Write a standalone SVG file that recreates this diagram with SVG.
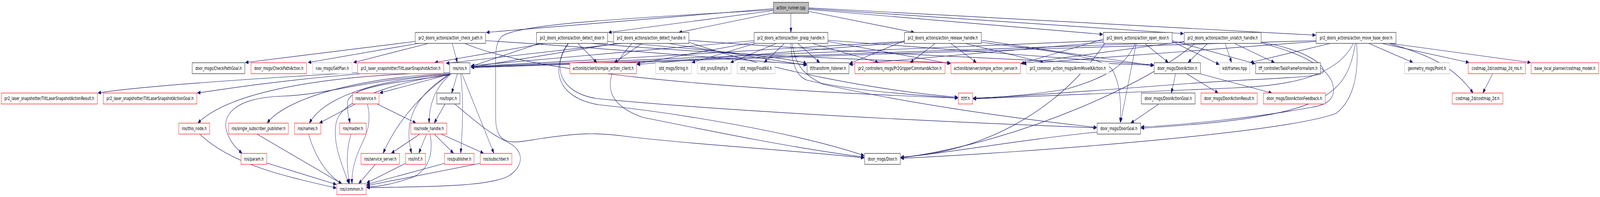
<svg xmlns="http://www.w3.org/2000/svg" width="6227" height="504" viewBox="0 0 6227 504" preserveAspectRatio="none">
<style>
svg{width:100vw;height:100vh}
rect{fill:#fff;stroke-width:1.4}
.k rect{stroke:#404040}
.r rect{stroke:#ff3030}
.g rect{stroke:#bfbfbf}
.root rect{fill:#bfbfbf;stroke:#404040}
text{font-family:"DejaVu Sans","Liberation Sans",sans-serif;font-size:12.7px;fill:#000;text-anchor:middle}
.edges path{fill:none;stroke:#191970;stroke-width:1.2;marker-end:url(#ah)}
</style>
<defs>
<marker id="ah" viewBox="0 0 12 9" refX="12" refY="4.5" markerWidth="12" markerHeight="9" markerUnits="userSpaceOnUse" orient="auto"><path d="M0,0 L12,4.5 L0,9 z" fill="#191970" stroke="#191970"/></marker>
</defs>
<rect x="0" y="0" width="6227" height="504" style="fill:#fff;stroke:none"/>
<g class="edges" id="edges">
<path d="M3010,22 L1893,83"/>
<path d="M3010,27 L2368,83"/>
<path d="M3012,33 L2642,83"/>
<path d="M3078,34 L3078,83"/>
<path d="M3147,29 L3558,83"/>
<path d="M3147,24 L4292,88"/>
<path d="M3147,22 L4606,86"/>
<path d="M3147,20 L5120,90"/>
<path d="M3010,25 C2500,45 2000,60 1950,95 C1925,115 1929,140 1929,200 L1929,300 C1929,380 2000,365 2100,355 C2250,340 2320,338 2450,350 C2700,370 3100,385 3363,404"/>
<path d="M1760,111 L1780,160"/>
<path d="M1616,106 L955,160"/>
<path d="M1628,111 L1199,160"/>
<path d="M1668,111 L1376,160"/>
<path d="M1809,111 C2050,180 2700,225 3728,251"/>
<path d="M1890,104 C2300,120 2800,150 3139,165"/>
<path d="M1392,186 C1000,200 520,222 381,238"/>
<path d="M1400,189 C1100,205 900,225 768,238"/>
<path d="M2249,111 L2323,160"/>
<path d="M2100,111 L1833,170"/>
<path d="M2120,111 L1692,160"/>
<path d="M2213,111 C2150,165 2170,235 2320,252 C2600,270 3200,300 4268,327"/>
<path d="M2210,111 C2140,180 2170,250 2330,268 C2650,290 3100,340 3363,398"/>
<path d="M2365,106 C2800,130 3100,150 3139,163"/>
<path d="M2300,111 C2800,140 3300,150 3699,161"/>
<path d="M2499,111 L2391,160"/>
<path d="M2400,111 L1834,172"/>
<path d="M2420,111 L1736,162"/>
<path d="M2600,111 L3139,167"/>
<path d="M2681,103 C3200,130 4000,155 4490,167"/>
<path d="M2460,111 C2350,190 2330,260 2500,300 C2800,340 3100,380 3363,402"/>
<path d="M2681,108 C3000,180 3400,230 3728,249"/>
<path d="M2940,111 L2693,160"/>
<path d="M3022,111 L2843,160"/>
<path d="M3053,111 L2974,160"/>
<path d="M3161,111 L3419,160"/>
<path d="M3105,111 L3190,160"/>
<path d="M2935,104 C2500,130 2100,150 1834,168"/>
<path d="M2935,108 L2479,163"/>
<path d="M3222,106 L3699,163"/>
<path d="M3222,103 L4490,166"/>
<path d="M3078,111 C3080,160 3100,195 3140,205 C3300,230 3500,240 3728,251"/>
<path d="M3083,111 C3095,170 3130,190 3200,215 C3500,260 3900,300 4268,326"/>
<path d="M3700,111 L3800,160"/>
<path d="M3756,111 L4062,160"/>
<path d="M3640,111 L3543,160"/>
<path d="M3520,104 L3306,163"/>
<path d="M3520,106 C3000,130 2400,150 1834,170"/>
<path d="M3520,108 L2479,165"/>
<path d="M3819,103 L4490,168"/>
<path d="M3819,108 C4000,125 4300,140 4330,180 C4365,220 4362,280 4360,313"/>
<path d="M4422,111 L4361,313"/>
<path d="M4455,111 L4547,160"/>
<path d="M4294,104 C3500,128 2500,150 1834,171"/>
<path d="M4418,111 C4380,170 4300,200 4150,228 C4000,245 3850,250 3787,251"/>
<path d="M4294,100 L3973,163"/>
<path d="M4562,104 L4885,163"/>
<path d="M4562,106 L4745,165"/>
<path d="M4300,111 C4100,300 3800,390 3506,402"/>
<path d="M4294,108 L3306,165"/>
<path d="M4768,111 L4793,160"/>
<path d="M4804,111 L4960,160"/>
<path d="M4700,111 L4624,160"/>
<path d="M4609,108 C3800,130 2600,150 1834,172"/>
<path d="M4609,106 L3980,162"/>
<path d="M4908,108 C5100,130 5160,170 5150,185 C5140,200 4900,200 4600,215 C4300,230 3900,250 3787,252"/>
<path d="M4908,110 C5150,150 5190,200 5190,230 C5190,260 5150,270 5100,275 C4900,300 4600,320 4441,325"/>
<path d="M4650,111 C4500,200 4000,360 3506,404"/>
<path d="M5327,111 L5499,160"/>
<path d="M5377,111 L5717,160"/>
<path d="M5410,111 L5957,160"/>
<path d="M5405,111 C5560,140 5660,170 5733,238"/>
<path d="M5122,104 C4000,125 2800,150 1834,173"/>
<path d="M5178,111 L4866,160"/>
<path d="M5122,106 L3982,163"/>
<path d="M5267,111 C5200,200 5000,220 4800,225 C4300,240 3900,252 3787,253"/>
<path d="M5275,111 C5240,250 5150,300 4441,328"/>
<path d="M5280,111 C5290,200 5260,260 5200,290 C5000,340 4000,390 3506,405"/>
<path d="M4575,189 L4559,238"/>
<path d="M4619,189 L4741,238"/>
<path d="M4672,189 L4950,238"/>
<path d="M4510,266 L4401,315"/>
<path d="M4270,338 C4000,355 3700,390 3506,403"/>
<path d="M5809,189 L5771,238"/>
<path d="M1780,189 L1758,238"/>
<path d="M1755,189 C1700,220 1670,260 1670,315"/>
<path d="M1752,189 C1650,230 1560,290 1602,392"/>
<path d="M1793,189 C1805,260 1800,330 1793,392"/>
<path d="M1798,189 L1922,392"/>
<path d="M1750,190 L1478,238"/>
<path d="M1750,190 C1620,250 1540,320 1491,392"/>
<path d="M1750,192 C1560,210 1350,220 1352,265 C1352,290 1358,300 1362,315"/>
<path d="M1750,190 C1450,205 1260,250 1204,315"/>
<path d="M1750,188 C1350,200 1100,260 1040,315"/>
<path d="M1750,186 C1300,190 900,230 770,315"/>
<path d="M1750,190 C1400,205 1300,240 1100,246 C900,250 870,300 880,330 C890,360 920,380 942,392"/>
<path d="M1750,190 C1500,215 1330,260 1310,310 C1290,360 1330,420 1358,470"/>
<path d="M1383,266 L1243,315"/>
<path d="M1430,266 C1450,320 1420,350 1400,380 C1380,410 1368,440 1370,470"/>
<path d="M1468,266 L1619,315"/>
<path d="M1732,266 L1690,315"/>
<path d="M1770,266 C1850,310 1900,340 1980,365 C2050,390 2030,430 1980,450 C1900,480 1600,478 1427,480"/>
<path d="M1660,343 L1630,392"/>
<path d="M1690,343 L1765,392"/>
<path d="M1717,343 L1882,392"/>
<path d="M1674,343 C1690,400 1660,440 1600,455 C1530,470 1480,478 1427,478"/>
<path d="M1634,343 L1523,392"/>
<path d="M1578,418 L1427,468"/>
<path d="M1730,418 L1427,472"/>
<path d="M1869,418 L1427,475"/>
<path d="M1460,421 L1396,470"/>
<path d="M777,343 C900,420 1100,450 1309,481"/>
<path d="M1038,417 L1309,472"/>
<path d="M1000,343 L1330,470"/>
<path d="M1201,343 C1230,410 1280,450 1330,470"/>
<path d="M1366,343 C1345,390 1350,430 1360,470"/>
</g>
<g id="n_root" class="root"><rect x="3010" y="6" width="137" height="28"/><text x="3078.5" y="24.5">action_runner.cpp</text></g>
<g id="n_check_path" class="k"><rect x="1616" y="83" width="274" height="28"/><text x="1753" y="101.5">pr2_doors_actions/action_check_path.h</text></g>
<g id="n_detect_door" class="k"><rect x="2088" y="83" width="277" height="28"/><text x="2226.5" y="101.5">pr2_doors_actions/action_detect_door.h</text></g>
<g id="n_detect_handle" class="k"><rect x="2388" y="83" width="293" height="28"/><text x="2534.5" y="101.5">pr2_doors_actions/action_detect_handle.h</text></g>
<g id="n_grasp_handle" class="k"><rect x="2935" y="83" width="287" height="28"/><text x="3078.5" y="101.5">pr2_doors_actions/action_grasp_handle.h</text></g>
<g id="n_release_handle" class="k"><rect x="3520" y="83" width="299" height="28"/><text x="3669.5" y="101.5">pr2_doors_actions/action_release_handle.h</text></g>
<g id="n_open_door" class="k"><rect x="4294" y="83" width="268" height="28"/><text x="4428" y="101.5">pr2_doors_actions/action_open_door.h</text></g>
<g id="n_unlatch_handle" class="k"><rect x="4609" y="83" width="299" height="28"/><text x="4758.5" y="101.5">pr2_doors_actions/action_unlatch_handle.h</text></g>
<g id="n_move_base_door" class="k"><rect x="5122" y="83" width="311" height="28"/><text x="5277.5" y="101.5">pr2_doors_actions/action_move_base_door.h</text></g>
<g id="n_CheckPathGoal" class="k"><rect x="748" y="160.5" width="205" height="28"/><text x="850.5" y="179">door_msgs/CheckPathGoal.h</text></g>
<g id="n_CheckPathAction" class="r"><rect x="977" y="160.5" width="216" height="28"/><text x="1085" y="179">door_msgs/CheckPathAction.h</text></g>
<g id="n_GetPlan" class="g"><rect x="1217" y="160.5" width="153" height="28"/><text x="1293.5" y="179">nav_msgs/GetPlan.h</text></g>
<g id="n_TiltLaserSnapshotAction" class="r"><rect x="1392" y="160.5" width="335" height="28"/><text x="1559.5" y="179">pr2_laser_snapshotter/TiltLaserSnapshotAction.h</text></g>
<g id="n_ros" class="k"><rect x="1750" y="160.5" width="79" height="28"/><text x="1789.5" y="179">ros/ros.h</text></g>
<g id="n_simple_action_client" class="r"><rect x="2218" y="160.5" width="259" height="28"/><text x="2347.5" y="179">actionlib/client/simple_action_client.h</text></g>
<g id="n_String" class="g"><rect x="2552" y="160.5" width="139" height="28"/><text x="2621.5" y="179">std_msgs/String.h</text></g>
<g id="n_Empty" class="g"><rect x="2714" y="160.5" width="131" height="28"/><text x="2779.5" y="179">std_srvs/Empty.h</text></g>
<g id="n_Float64" class="g"><rect x="2869" y="160.5" width="147" height="28"/><text x="2942.5" y="179">std_msgs/Float64.h</text></g>
<g id="n_transform_listener" class="k"><rect x="3141" y="160.5" width="163" height="28"/><text x="3222.5" y="179">tf/transform_listener.h</text></g>
<g id="n_Pr2GripperCommandAction" class="r"><rect x="3327" y="160.5" width="351" height="28"/><text x="3502.5" y="179">pr2_controllers_msgs/Pr2GripperCommandAction.h</text></g>
<g id="n_simple_action_server" class="r"><rect x="3701" y="160.5" width="270" height="28"/><text x="3836" y="179">actionlib/server/simple_action_server.h</text></g>
<g id="n_ArmMoveIKAction" class="g"><rect x="3995" y="160.5" width="322" height="28"/><text x="4156" y="179">pr2_common_action_msgs/ArmMoveIKAction.h</text></g>
<g id="n_DoorAction" class="k"><rect x="4492" y="160.5" width="180" height="28"/><text x="4582" y="179">door_msgs/DoorAction.h</text></g>
<g id="n_frames" class="g"><rect x="4747" y="160.5" width="117" height="28"/><text x="4805.5" y="179">kdl/frames.hpp</text></g>
<g id="n_TaskFrameFormalism" class="k"><rect x="4887" y="160.5" width="252" height="28"/><text x="5013" y="179">tff_controller/TaskFrameFormalism.h</text></g>
<g id="n_Point" class="g"><rect x="5466" y="160.5" width="175" height="28"/><text x="5553.5" y="179">geometry_msgs/Point.h</text></g>
<g id="n_costmap_2d_ros" class="r"><rect x="5714" y="160.5" width="223" height="28"/><text x="5825.5" y="179">costmap_2d/costmap_2d_ros.h</text></g>
<g id="n_costmap_model" class="r"><rect x="5959" y="160.5" width="263" height="28"/><text x="6090.5" y="179">base_local_planner/costmap_model.h</text></g>
<g id="n_TiltResult" class="r"><rect x="5" y="238" width="374" height="28"/><text x="192" y="256.5">pr2_laser_snapshotter/TiltLaserSnapshotActionResult.h</text></g>
<g id="n_TiltGoal" class="r"><rect x="402" y="238" width="364" height="28"/><text x="584" y="256.5">pr2_laser_snapshotter/TiltLaserSnapshotActionGoal.h</text></g>
<g id="n_service" class="r"><rect x="1372" y="238" width="103" height="28"/><text x="1423.5" y="256.5">ros/service.h</text></g>
<g id="n_topic" class="k"><rect x="1700" y="238" width="90" height="28"/><text x="1745" y="256.5">ros/topic.h</text></g>
<g id="n_tf" class="r"><rect x="3730" y="238" width="55" height="28"/><text x="3757.5" y="256.5">tf/tf.h</text></g>
<g id="n_DoorActionGoal" class="k"><rect x="4442" y="238" width="209" height="28"/><text x="4546.5" y="256.5">door_msgs/DoorActionGoal.h</text></g>
<g id="n_DoorActionResult" class="r"><rect x="4674" y="238" width="219" height="28"/><text x="4783.5" y="256.5">door_msgs/DoorActionResult.h</text></g>
<g id="n_DoorActionFeedback" class="r"><rect x="4917" y="238" width="241" height="28"/><text x="5037.5" y="256.5">door_msgs/DoorActionFeedback.h</text></g>
<g id="n_costmap_2d" class="r"><rect x="5652" y="238" width="197" height="28"/><text x="5750.5" y="256.5">costmap_2d/costmap_2d.h</text></g>
<g id="n_this_node" class="r"><rect x="696" y="315" width="120" height="28"/><text x="756" y="333.5">ros/this_node.h</text></g>
<g id="n_single_subscriber_publisher" class="r"><rect x="890" y="315" width="232" height="28"/><text x="1006" y="333.5">ros/single_subscriber_publisher.h</text></g>
<g id="n_names" class="r"><rect x="1146" y="315" width="103" height="28"/><text x="1197.5" y="333.5">ros/names.h</text></g>
<g id="n_master" class="r"><rect x="1322" y="315" width="103" height="28"/><text x="1373.5" y="333.5">ros/master.h</text></g>
<g id="n_node_handle" class="r"><rect x="1599" y="315" width="140" height="28"/><text x="1669" y="333.5">ros/node_handle.h</text></g>
<g id="n_DoorGoal" class="k"><rect x="4270" y="315" width="169" height="28"/><text x="4354.5" y="333.5">door_msgs/DoorGoal.h</text></g>
<g id="n_param" class="r"><rect x="938" y="392.5" width="100" height="28"/><text x="988" y="411">ros/param.h</text></g>
<g id="n_service_server" class="r"><rect x="1405" y="392.5" width="150" height="28"/><text x="1480" y="411">ros/service_server.h</text></g>
<g id="n_init" class="r"><rect x="1578" y="392.5" width="78" height="28"/><text x="1617" y="411">ros/init.h</text></g>
<g id="n_publisher" class="r"><rect x="1730" y="392.5" width="115" height="28"/><text x="1787.5" y="411">ros/publisher.h</text></g>
<g id="n_subscriber" class="r"><rect x="1869" y="392.5" width="123" height="28"/><text x="1930.5" y="411">ros/subscriber.h</text></g>
<g id="n_Door" class="k"><rect x="3365" y="392.5" width="139" height="28"/><text x="3434.5" y="411">door_msgs/Door.h</text></g>
<g id="n_common" class="r"><rect x="1311" y="470" width="114" height="28"/><text x="1368" y="488.5">ros/common.h</text></g>
</svg>
